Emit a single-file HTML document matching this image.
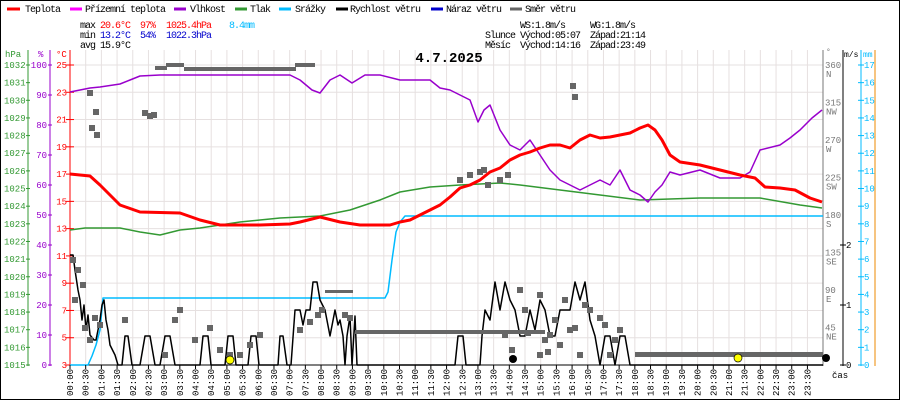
<!DOCTYPE html>
<html><head><meta charset="utf-8"><style>
body{margin:0;background:#fff}
svg{display:block;font-family:"Liberation Mono","DejaVu Sans Mono",monospace}
.t{font-size:10px;letter-spacing:-1px}
</style></head><body>
<svg id="s" width="900" height="400" viewBox="0 0 900 400" xmlns="http://www.w3.org/2000/svg">
<rect x="0.5" y="0.5" width="899" height="399" fill="#fff" stroke="#000"/>
<g id="grid" stroke="#e6e0e0" stroke-width="1"></g>
<!-- legend -->
<g class="t" fill="#000">
<line x1="7" y1="9" x2="20" y2="9" stroke="#f00" stroke-width="3"/><text x="25" y="12">Teplota</text>
<line x1="70" y1="9" x2="82" y2="9" stroke="#f0f" stroke-width="3"/><text x="85" y="12">Přízemní teplota</text>
<line x1="174" y1="9" x2="186" y2="9" stroke="#90c" stroke-width="3"/><text x="190" y="12">Vlhkost</text>
<line x1="235" y1="9" x2="247" y2="9" stroke="#393" stroke-width="3"/><text x="250" y="12">Tlak</text>
<line x1="279" y1="9" x2="291" y2="9" stroke="#0bf" stroke-width="3"/><text x="295" y="12">Srážky</text>
<line x1="336" y1="9" x2="348" y2="9" stroke="#000" stroke-width="3"/><text x="350" y="12">Rychlost větru</text>
<line x1="431" y1="9" x2="443" y2="9" stroke="#00c" stroke-width="3"/><text x="446" y="12">Náraz větru</text>
<line x1="510" y1="9" x2="522" y2="9" stroke="#666" stroke-width="3"/><text x="525" y="12">Směr větru</text>
</g>
<g class="t">
<text x="80" y="28">max</text><text x="100" y="28" fill="#f00">20.6°C</text><text x="140" y="28" fill="#f00">97%</text><text x="166" y="28" fill="#f00">1025.4hPa</text><text x="229" y="28" fill="#0bf">8.4mm</text>
<text x="80" y="38">min</text><text x="100" y="38" fill="#00c">13.2°C</text><text x="140" y="38" fill="#00c">54%</text><text x="166" y="38" fill="#00c">1022.3hPa</text>
<text x="80" y="48">avg</text><text x="100" y="48">15.9°C</text>
<text x="520" y="28">WS:1.8m/s</text><text x="590" y="28">WG:1.8m/s</text>
<text x="485" y="38">Slunce</text><text x="520" y="38">Východ:05:07</text><text x="590" y="38">Západ:21:14</text>
<text x="485" y="48">Měsíc</text><text x="520" y="48">Východ:14:16</text><text x="590" y="48">Západ:23:49</text>
</g>
<text x="449" y="62" font-size="14" font-weight="bold" text-anchor="middle" font-family="Liberation Mono,monospace">4.7.2025</text>
<!-- axes -->
<line x1="28" y1="50" x2="28" y2="366" stroke="#393"/>
<line x1="50" y1="50" x2="50" y2="366" stroke="#90c"/>
<line x1="70" y1="50" x2="70" y2="366" stroke="#f00"/>
<line x1="823" y1="50" x2="823" y2="366" stroke="#777"/>
<line x1="843" y1="50" x2="843" y2="366" stroke="#000"/>
<line x1="861" y1="50" x2="861" y2="366" stroke="#0bf"/>
<line x1="875" y1="50" x2="875" y2="366" stroke="#e80"/>
<line x1="70" y1="365" x2="823" y2="365" stroke="#000"/>
<g id="ax" font-size="9"></g>
<text x="5" y="57" font-size="9" fill="#393">hPa</text>
<text x="38" y="57" font-size="9" fill="#90c">%</text>
<text x="56" y="57" font-size="9" fill="#f00">°C</text>
<text x="826" y="54" font-size="8" fill="#777">°</text>
<text x="844" y="57" font-size="8" fill="#000">m/s</text>
<text x="863" y="57" font-size="8" fill="#0bf">mm</text>
<text x="832" y="378" font-size="9">čas</text>
<!-- series -->
<g fill="none" stroke-linejoin="round">
<polyline stroke="#0bf" stroke-width="1.5" points="70,365 88,365 92,356 96,345 100,330 103,298 385,298 388,292 392,260 396,232 400,222 405,216 823,216"/>
<polyline stroke="#393" stroke-width="1.5" points="70,230 85,228 100,228 120,228 140,232 160,235 180,230 200,228 220,225 240,222 260,220 280,218 320,216 350,210 380,200 400,192 430,187 460,185 500,183 520,185 560,190 600,195 640,200 700,198 760,198 800,205 822,208"/>
<polyline stroke="#90c" stroke-width="1.5" points="70,92 80,90 90,88 100,87 120,84 130,80 140,76 160,75 290,75 300,80 312,90 320,93 330,80 340,75 352,83 365,75 380,75 400,80 430,80 440,88 450,90 460,95 470,100 478,122 484,110 490,105 500,130 510,145 520,150 530,140 540,155 550,170 560,180 570,185 580,190 590,185 600,180 610,185 620,170 630,190 640,195 648,202 655,192 662,185 670,172 680,175 700,170 720,178 740,178 750,172 760,150 780,145 790,138 800,130 812,118 822,110"/>
<polyline stroke="#f00" stroke-width="3" points="70,174 90,176 100,185 110,195 120,205 140,212 180,213 200,220 220,225 260,225 290,224 300,222 320,217 340,222 360,225 390,225 400,222 410,220 420,215 430,210 440,205 450,197 460,188 470,185 480,180 490,172 500,168 510,160 520,155 530,152 540,148 550,145 560,145 570,148 580,140 590,135 600,138 610,137 620,135 630,133 640,128 648,125 655,130 662,140 670,155 680,162 700,165 720,170 740,175 755,178 765,187 780,188 795,190 810,198 822,202"/>
<polyline stroke="#000" stroke-width="1.5" points="70,255 73,255 75,270 78,290 80,300 82,320 84,305 86,330 88,315 90,335 94,340 96,340 98,330 100,320 102,305 104,300 106,320 108,330 110,345 115,355 118,365 122,365 125,336 128,336 132,365 140,365 145,336 150,336 155,365 160,365 165,336 170,336 175,365 200,365 203,336 208,336 211,365 225,365 228,336 233,336 236,365 248,365 251,336 256,336 259,365 278,365 280,336 283,336 287,365 291,365 295,310 300,310 303,325 306,310 310,310 313,282 317,282 320,300 325,310 330,336 335,310 338,325 340,320 343,336 345,365 347,336 350,316 352,365 355,316 357,365 455,365 458,336 463,336 466,365 480,365 482,336 485,310 490,320 495,282 500,310 505,282 510,300 515,310 520,336 525,336 530,310 535,330 540,300 545,310 550,336 555,336 560,310 570,310 575,282 580,300 585,282 590,320 595,336 600,365 605,336 610,336 615,365 620,336 625,336 630,365 823,365"/>
</g>
<g fill="#666">
<rect x="155" y="66" width="12" height="4"/><rect x="166" y="63" width="18" height="4"/><rect x="184" y="67" width="112" height="4"/><rect x="295" y="63" width="20" height="4"/>
<rect x="355" y="330" width="185" height="4"/><rect x="535" y="330" width="10" height="4"/><rect x="325" y="290" width="28" height="3"/>
<rect x="635" y="352" width="188" height="5"/>
</g>
<g id="pts" fill="#666"></g>
<circle cx="230" cy="360" r="4" fill="#ff0" stroke="#000" stroke-width="0.7"/>
<circle cx="738" cy="358" r="4" fill="#ff0" stroke="#000" stroke-width="0.7"/>
<circle cx="513" cy="359" r="4" fill="#000"/>
<circle cx="826" cy="358" r="4" fill="#000"/>
<g id="tl" font-size="9"></g>
</svg>
<script>
var NS="http://www.w3.org/2000/svg";
function el(p,t,a,txt){var e=document.createElementNS(NS,t);for(var k in a)e.setAttribute(k,a[k]);if(txt!=null)e.textContent=txt;document.getElementById(p).appendChild(e);}
for(var i=1;i<48;i++){var x=70+i*15.69;el("grid","line",{x1:x,y1:50,x2:x,y2:365});}
for(var t=3;t<=25;t+=2){var y=365-(t-3)*13.636;el("grid","line",{x1:70,y1:y,x2:823,y2:y});
 el("ax","text",{x:67,y:y+3,fill:"#f00","text-anchor":"end"},t);el("ax","line",{x1:66,y1:y,x2:74,y2:y,stroke:"#f00"});}
for(var p=1015;p<=1032;p++){var y=365-(p-1015)*17.647;el("ax","text",{x:4,y:y+3,fill:"#393"},p);el("ax","line",{x1:26,y1:y,x2:30,y2:y,stroke:"#393"});}
for(var h=0;h<=100;h+=10){var y=365-h*3;el("ax","text",{x:47,y:y+3,fill:"#90c","text-anchor":"end"},h);el("ax","line",{x1:48,y1:y,x2:52,y2:y,stroke:"#90c"});}
var d=[[360,"N"],[315,"NW"],[270,"W"],[225,"SW"],[180,"S"],[135,"SE"],[90,"E"],[45,"NE"]];
d.forEach(function(a){var y=365-a[0]/360*300;el("ax","text",{x:825,y:y+3,fill:"#777"},a[0]);el("ax","text",{x:826,y:y+12,fill:"#777"},a[1]);});
for(var m=0;m<=2;m++){var y=365-m*60;el("ax","text",{x:846,y:y+3,fill:"#000"},m);el("ax","line",{x1:840,y1:y,x2:846,y2:y,stroke:"#000"});}
for(var mm=0;mm<=17;mm++){var y=365-mm*17.647;el("ax","text",{x:864,y:y+3,fill:"#0bf"},mm);el("ax","line",{x1:858,y1:y,x2:864,y2:y,stroke:"#0bf"});}
for(var i=0;i<48;i++){var x=70+i*15.69;var hh=Math.floor(i/2),mn=i%2?"30":"00";var s=(hh<10?"0":"")+hh+":"+mn;
 el("tl","text",{x:0,y:0,transform:"translate("+(x+3)+",396) rotate(-90)"},s);el("tl","line",{x1:x,y1:365,x2:x,y2:369,stroke:"#000"});}
var P=[[90,93],[96,112],[97,135],[92,128],[73,260],[78,270],[83,285],[75,300],[85,328],[90,340],[95,318],[100,325],[125,320],[145,113],[150,116],[154,115],[165,355],[175,320],[180,310],[195,340],[210,328],[220,350],[230,355],[240,355],[250,345],[260,335],[300,330],[310,322],[318,315],[322,310],[345,315],[350,318],[460,180],[470,175],[480,172],[484,170],[488,185],[500,180],[508,175],[520,290],[525,310],[540,295],[545,340],[550,335],[555,320],[560,345],[565,300],[570,330],[575,328],[580,355],[585,305],[590,310],[600,318],[605,325],[610,355],[615,340],[620,330],[573,86],[575,97],[505,335],[512,350],[528,333],[540,355],[548,352]];
P.forEach(function(p){el("pts","rect",{x:p[0]-3,y:p[1]-3,width:6,height:6});});
</script>
</body></html>
